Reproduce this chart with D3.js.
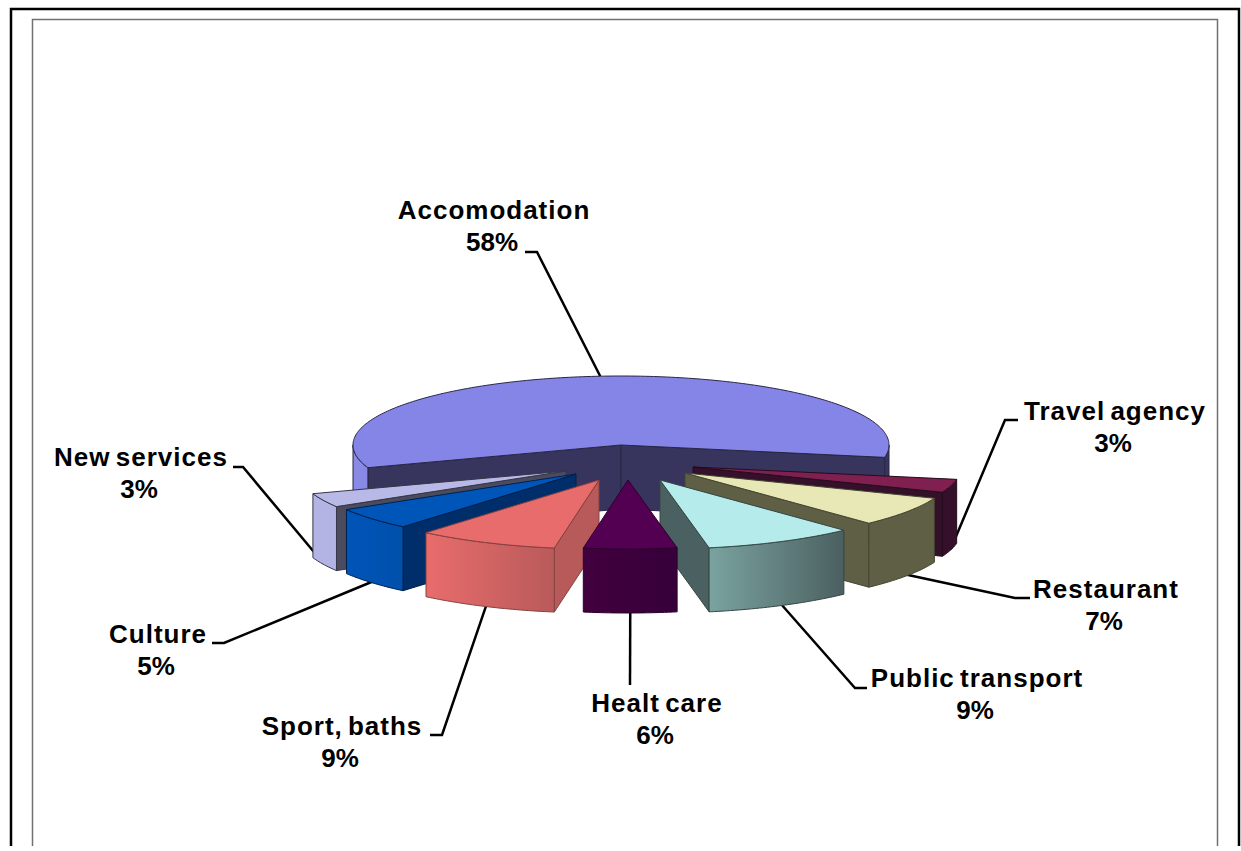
<!DOCTYPE html>
<html>
<head>
<meta charset="utf-8">
<script src="https://cdnjs.cloudflare.com/ajax/libs/d3/7.8.5/d3.min.js"></script>
<style>
  html, body { margin: 0; background: #fff; overflow: hidden; }
  text { font-family: "Liberation Sans", Arial, sans-serif; font-weight: bold; font-size: 26px; fill: #000; text-anchor: middle; }
</style>
</head>
<body>
<div id="chart"></div>
<script>
const width = 1241,
    height = 851

// data, in pie order (clockwise from the back of the pie)
const categories = ['Accomodation', 'Travel agency', 'Restaurant', 'Public transport', 'Healt care', 'Sport, baths', 'Culture', 'New services']
const shares = [58.2, 3.1, 7, 9.1, 5.6, 8.5, 5.2, 3.3]

// colours per slice
const topColors = ['#8585e8', '#802050', '#e8e8b6', '#b6ebeb', '#530053', '#e96c6c', '#0055b8', '#b9b9e8']
const wallColors = ['#37345e', '#35102a', '#5f5f45', '#4b6060', '#3c003c', '#b95a5a', '#002e6a', '#4b4b60']
const outerFrom = ['#8a8ae8', '#35102a', '#5f5f45', '#7aa3a0', '#42003f', '#e96c6c', '#0055b8', '#b4b4e4']
const outerTo = ['#37345e', '#35102a', '#5f5f45', '#4b6060', '#36003a', '#b95a5a', '#0050ac', '#b4b4e4']

// pie geometry
const center = { x: 621, y: 445 }
const rx = 268,
    ry = 69,
    depth = 64
const startAngle = -109.2 * Math.PI / 180

// how far each slice is pulled out of the pie
const pullX = [0, 72, 64, 39, 7, -22, -45, -55]
const pullY = [0, 22, 28, 35, 35, 35, 29, 26]
// back to front
const drawOrder = [0, 7, 6, 5, 1, 2, 3, 4]

// label placement: centre x, first baseline, and leader elbow
const labelX = [494, 1115, 1106, 977, 657, 342, 158, 141]
const labelY = [219, 420, 598, 687, 712, 735, 643, 466]
const elbows = [[[537, 252], [525, 252]], [[1005, 420], [1018, 420]], [[1015, 598], [1030, 598]], [[855, 688], [867, 688]],
    [[630, 685]], [[442, 735], [430, 735]], [[224, 643], [212, 643]], [[243, 467], [233, 467]]]

const svg = d3.select('#chart')
    .append('svg')
    .attr('width', width)
    .attr('height', height)

const defs = svg.append('defs')

const slices = d3.pie()
    .sort(null)
    .startAngle(startAngle)
    .endAngle(startAngle + 2 * Math.PI)(shares)

const line = d3.line()

// angle is clockwise from 12 o'clock, same as d3.pie
function rim(i, angle, drop) {
    return [
        center.x + pullX[i] + rx * Math.sin(angle),
        center.y + pullY[i] - ry * Math.cos(angle) + (drop || 0)
    ]
}

function apex(i, drop) {
    return [center.x + pullX[i], center.y + pullY[i] + (drop || 0)]
}

function arcPoints(i, a0, a1, drop) {
    const n = Math.max(2, Math.ceil(Math.abs(a1 - a0) * 60))
    return d3.range(n + 1).map(function (k) {
        return rim(i, a0 + (a1 - a0) * k / n, drop)
    })
}

/**
 * frames, the bottom of both runs off the page
 */
svg.append('path')
    .attr('d', 'M32.5,846V19.5H1217.5V846')
    .attr('fill', 'none')
    .attr('stroke', '#707070')
    .attr('stroke-width', 1.5)
svg.append('path')
    .attr('d', 'M11,846V9H1239V846')
    .attr('fill', 'none')
    .attr('stroke', '#000')
    .attr('stroke-width', 2.5)

/**
 * leader lines, under the slices
 */
slices.forEach(function (s, i) {
    const mid = (s.startAngle + s.endAngle) / 2
    const front = Math.cos(mid) < 0
    const from = rim(i, mid, front ? depth - 1 : 0)
    svg.append('path')
        .attr('d', line([from].concat(elbows[i])))
        .attr('fill', 'none')
        .attr('stroke', '#000')
        .attr('stroke-width', 2.5)
})

/**
 * slices
 */
const half = Math.PI / 2
drawOrder.forEach(function (i) {
    const s = slices[i]
    const g = svg.append('g')
        .attr('stroke', d3.color(wallColors[i]).darker(0.9))
        .attr('stroke-width', 1)
        .attr('stroke-linejoin', 'round')

    // cut faces, only the ones turned towards the viewer
    const sides = []
    if (Math.sin(s.startAngle) < 0) sides.push(s.startAngle)
    if (Math.sin(s.endAngle) > 0) sides.push(s.endAngle)
    sides.forEach(function (a) {
        g.append('path')
            .attr('d', line([apex(i), rim(i, a), rim(i, a, depth), apex(i, depth)]) + 'Z')
            .attr('fill', wallColors[i])
    })

    // outer wall, the part of the rim on the front half
    const gradId = 'outer' + i
    const ranges = []
    for (let k = -1; k <= 1; k++) {
        const lo = Math.max(s.startAngle, half + k * 2 * Math.PI)
        const hi = Math.min(s.endAngle, 3 * half + k * 2 * Math.PI)
        if (hi > lo) ranges.push([lo, hi])
    }
    const xs = ranges.flatMap(function (r) {
        return arcPoints(i, r[0], r[1]).map(function (p) { return p[0] })
    })
    const grad = defs.append('linearGradient')
        .attr('id', gradId)
        .attr('gradientUnits', 'userSpaceOnUse')
        .attr('x1', d3.min(xs))
        .attr('x2', d3.max(xs))
        .attr('y1', 0)
        .attr('y2', 0)
    grad.append('stop').attr('offset', 0).attr('stop-color', outerFrom[i])
    grad.append('stop').attr('offset', 1).attr('stop-color', outerTo[i])

    ranges.forEach(function (r) {
        const pts = arcPoints(i, r[0], r[1]).concat(arcPoints(i, r[1], r[0], depth))
        g.append('path')
            .attr('d', line(pts) + 'Z')
            .attr('fill', 'url(#' + gradId + ')')
    })

    // top face
    g.append('path')
        .attr('d', line([apex(i)].concat(arcPoints(i, s.startAngle, s.endAngle))) + 'Z')
        .attr('fill', topColors[i])
})

/**
 * labels
 */
categories.forEach(function (name, i) {
    const t = svg.append('text')
    t.append('tspan')
        .attr('x', labelX[i])
        .attr('y', labelY[i])
        .attr('letter-spacing', '1px')
        .attr('word-spacing', '-3px')
        .text(name)
    t.append('tspan')
        .attr('x', labelX[i] - 2)
        .attr('y', labelY[i] + 32)
        .text(Math.round(shares[i]) + '%')
})
</script>
</body>
</html>
